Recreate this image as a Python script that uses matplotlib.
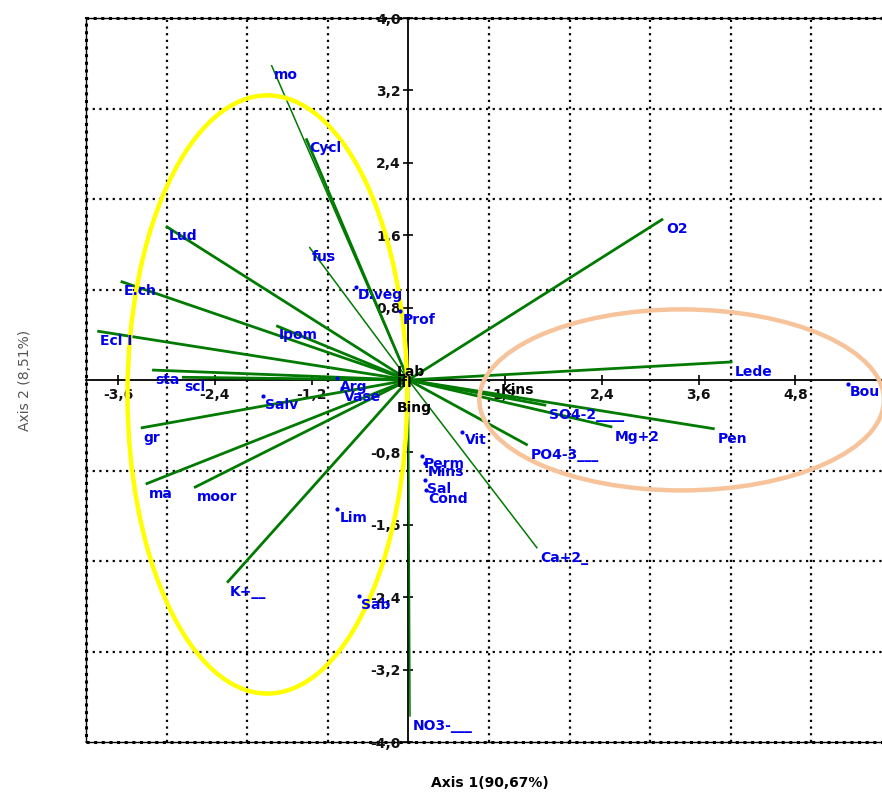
import matplotlib
matplotlib.use("Agg")
import matplotlib.pyplot as plt
from matplotlib.patches import Ellipse, Rectangle

# ---- data ----
vec_names = ["mo", "Cycl", "Lud", "fus", "E.ch", "Ipom", "Ecl I", "sta", "scl",
             "gr", "ma", "moor", "K+__", "NO3-___", "Ca+2_", "PO4-3___",
             "Mg+2", "SO4-2____", "Pen", "Lede", "O2"]
vec_x = [-1.70, -1.27, -3.01, -1.23, -3.57, -1.64, -3.86, -3.18, -2.81,
         -3.32, -3.26, -2.66, -2.25, 0.02, 1.60, 1.48,
         2.53, 1.71, 3.80, 4.02, 3.16]
vec_y = [3.48, 2.67, 1.70, 1.47, 1.09, 0.60, 0.54, 0.11, 0.03,
         -0.53, -1.15, -1.19, -2.24, -3.72, -1.86, -0.72,
         -0.52, -0.28, -0.54, 0.20, 1.78]
vec_thin = ["mo", "fus", "Ca+2_", "NO3-___"]

pt_names = ["D.veg", "Prof", "Salv", "Arg", "Vase", "Lim", "Sab", "Vit",
            "Perm", "Mins", "Sal", "Cond", "Bou"]
pt_x = [-0.65, -0.10, -1.80, -0.88, -0.83, -0.88, -0.61, 0.67,
        0.17, 0.21, 0.20, 0.22, 5.45]
pt_y = [1.03, 0.76, -0.18, 0.02, -0.09, -1.43, -2.39, -0.57,
        -0.84, -0.92, -1.11, -1.22, -0.04]

sup_names = ["Lab", "Ifl", "Bing", "Kins"]
sup_x = [-0.14, -0.14, -0.14, 1.14]
sup_y = [0.17, 0.04, -0.23, -0.03]

xticks = [-3.6, -2.4, -1.2, 1.2, 2.4, 3.6, 4.8]
yticks = [4.0, 3.2, 2.4, 1.6, 0.8, -0.8, -1.6, -2.4, -3.2, -4.0]

xlabel = "Axis 1(90,67%)"
ylabel = "Axis 2 (8,51%)"

FONT = "DejaVu Sans"

# ---- figure ----
fig = plt.figure(figsize=(8.82, 7.92), dpi=100)
ax = fig.add_axes([86/882, 50/792, 1 - 86/882, 724/792])
ax.set_xlim(-4.0, (882 - 409) / 80.5)
ax.set_ylim(-4.0, 4.0)

# grid
for gx in range(-3, 6):
    if gx != 0:
        ax.axvline(gx, color="black", lw=1.6, ls=(0, (1, 2)), zorder=1)
for gy in range(-3, 4):
    if gy != 0:
        ax.axhline(gy, color="black", lw=1.6, ls=(0, (1, 2)), zorder=1)

# frame
for sp in ["top", "right"]:
    ax.spines[sp].set_visible(False)
ax.spines["left"].set_position(("data", 0))
ax.spines["bottom"].set_position(("data", 0))
ax.spines["left"].set_linewidth(1.3)
ax.spines["bottom"].set_linewidth(1.3)
ax.add_patch(Rectangle((0, 0), 1.2, 1, transform=ax.transAxes, fill=False,
                       ec="black", lw=1.0, zorder=1, clip_on=False))
ax.add_patch(Rectangle((0, 0), 1.2, 1, transform=ax.transAxes, fill=False,
                       ec="black", lw=2.2, ls=(0, (1, 1.5)), zorder=1, clip_on=False))

ax.set_xticks(xticks)
ax.set_yticks(yticks)
ax.set_xticklabels([f"{v:.1f}".replace(".", ",") for v in xticks])
ax.set_yticklabels([f"{v:.1f}".replace(".", ",") for v in yticks])
ax.tick_params(direction="inout", length=7, width=1.2, labelsize=10, pad=2)
for lab in ax.get_xticklabels() + ax.get_yticklabels():
    lab.set_fontweight("bold")
    lab.set_family(FONT)
    lab.set_color("#111111")

# vectors
green = "#007a00"
blue = "#0000ee"
for n, x, y in zip(vec_names, vec_x, vec_y):
    lw = 1.1 if n in vec_thin else 2.0
    ax.plot([0, x], [0, y], color=green, lw=lw, zorder=3, solid_capstyle="butt")
    ax.annotate(n, (x, y), xytext=(2, -2), textcoords="offset points",
                ha="left", va="top", color=blue, fontsize=10,
                fontweight="bold", family=FONT, zorder=6)

# points
for n, x, y in zip(pt_names, pt_x, pt_y):
    ax.plot([x], [y], marker="o", ms=2.0, color=blue, zorder=5, clip_on=False)
    ax.annotate(n, (x, y), xytext=(1.5, -1), textcoords="offset points",
                ha="left", va="top", color=blue, fontsize=10,
                fontweight="bold", family=FONT, zorder=6,
                annotation_clip=False)

# supplementary (black) labels
for n, x, y in zip(sup_names, sup_x, sup_y):
    ax.annotate(n, (x, y), xytext=(0, 0), textcoords="offset points",
                ha="left", va="top", color="black", fontsize=10,
                fontweight="bold", family=FONT, zorder=6)

# ellipses
ax.add_patch(Ellipse((-1.75, -0.16), 3.47, 6.61, fill=False, ec="#ffff00",
                     lw=3.2, zorder=4))
ax.add_patch(Ellipse((3.39, -0.22), 5.02, 2.0, fill=False, ec="#f7c39a",
                     lw=3.2, zorder=4, clip_on=False))

fig.text(490 / 882, 1 - 783 / 792, xlabel, ha="center", va="center",
         fontsize=10, fontweight="bold", family=FONT)
fig.text(25 / 882, 1 - 380 / 792, ylabel, ha="center", va="center",
         rotation=90, fontsize=10, color="#555555", family=FONT)

fig.savefig("out.png", dpi=100)
